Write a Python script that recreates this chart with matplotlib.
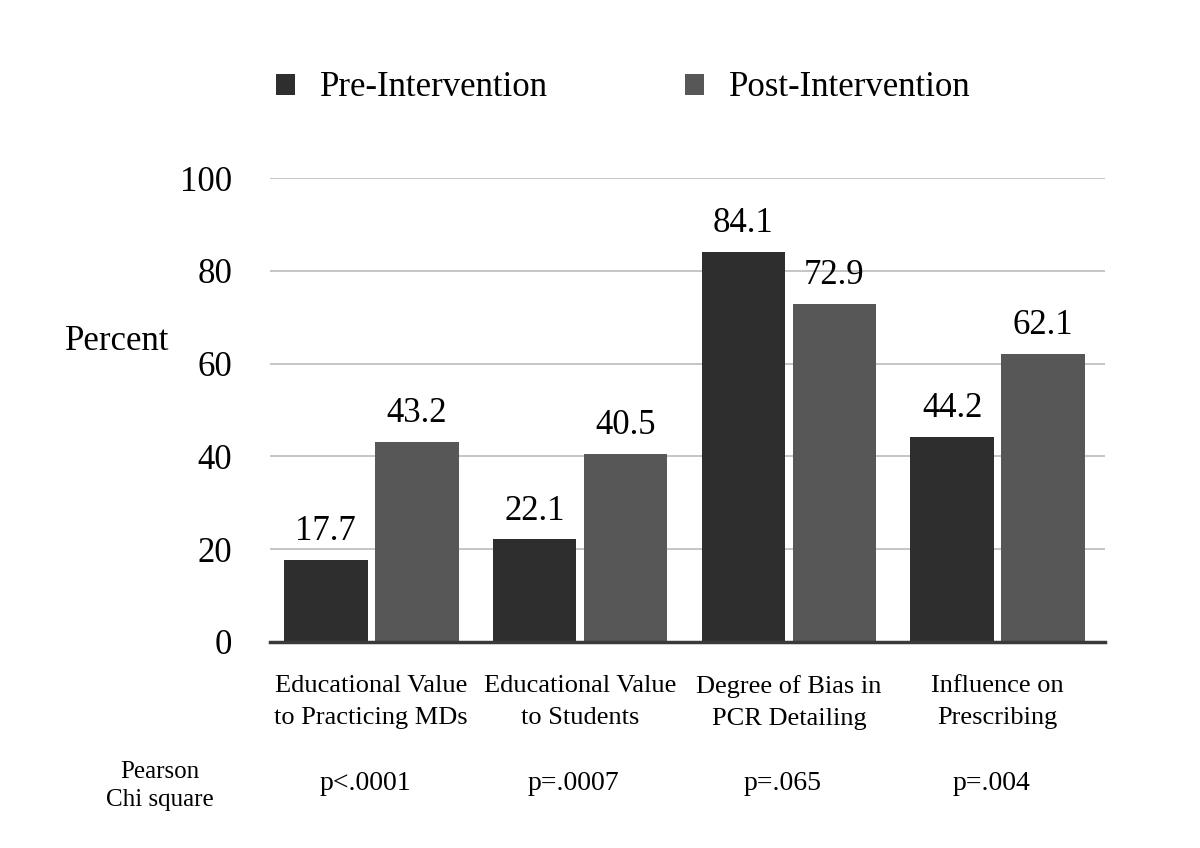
import matplotlib.pyplot as plt
import numpy as np

plt.rcParams['font.family'] = ['Liberation Serif', 'DejaVu Serif']

categories = ["Educational Value\nto Practicing MDs", "Educational Value\nto Students",
              "Degree of Bias in\nPCR Detailing", "Influence on\nPrescribing"]
pre = [17.7, 22.1, 84.1, 44.2]
post = [43.2, 40.5, 72.9, 62.1]
pvals = ["p<.0001", "p=.0007", "p=.065", "p=.004"]

fig = plt.figure(figsize=(12, 8.48), dpi=100)
ax = fig.add_axes([0.225, 0.243, 0.696, 0.547])

x = np.arange(len(categories))
w = 0.40
b1 = ax.bar(x - 0.218, pre, w, color='#2e2e2e', label='Pre-Intervention', zorder=3)
b2 = ax.bar(x + 0.218, post, w, color='#575757', label='Post-Intervention', zorder=3)

for bars, vals in ((b1, pre), (b2, post)):
    for r, v in zip(bars, vals):
        ax.text(r.get_x() + r.get_width() / 2, v + 2.5, f"{v:.1f}",
                ha='center', va='bottom', fontsize=25)

ax.set_xlim(-0.485, 3.515)
ax.set_ylim(0, 100)
ax.set_yticks(range(0, 101, 20))
ax.tick_params(axis='y', length=0, labelsize=25, pad=27)
ax.set_xticks(x)
ax.set_xticklabels(categories, fontsize=19, linespacing=1.55)
ax.tick_params(axis='x', length=0, pad=24)
ax.grid(axis='y', color='#c0c0c0', linewidth=1.3, zorder=0)
for s in ['top', 'right', 'left']:
    ax.spines[s].set_visible(False)
ax.spines['bottom'].set_color('#3a3a3a')
ax.spines['bottom'].set_linewidth(2.5)
ax.spines['bottom'].set_zorder(4)

fig.text(65 / 1200, 1 - 342 / 848, "Percent", fontsize=25, ha='left', va='center')

for xi, p in zip(x, pvals):
    ax.text(xi - 0.03, -30.5, p, ha='center', va='center', fontsize=20)
fig.text(160 / 1200, 1 - 786 / 848, "Pearson\nChi square", ha='center', va='center',
         fontsize=18, linespacing=1.35)

fig.legend(handles=[b1, b2], loc='center left', bbox_to_anchor=(276 / 1200, 1 - 88 / 848),
           ncol=2, frameon=False, fontsize=25, handlelength=0.55, handleheight=0.55,
           columnspacing=3.95, handletextpad=0.72, borderpad=0, borderaxespad=0)

fig.savefig('out.png', dpi=100)
